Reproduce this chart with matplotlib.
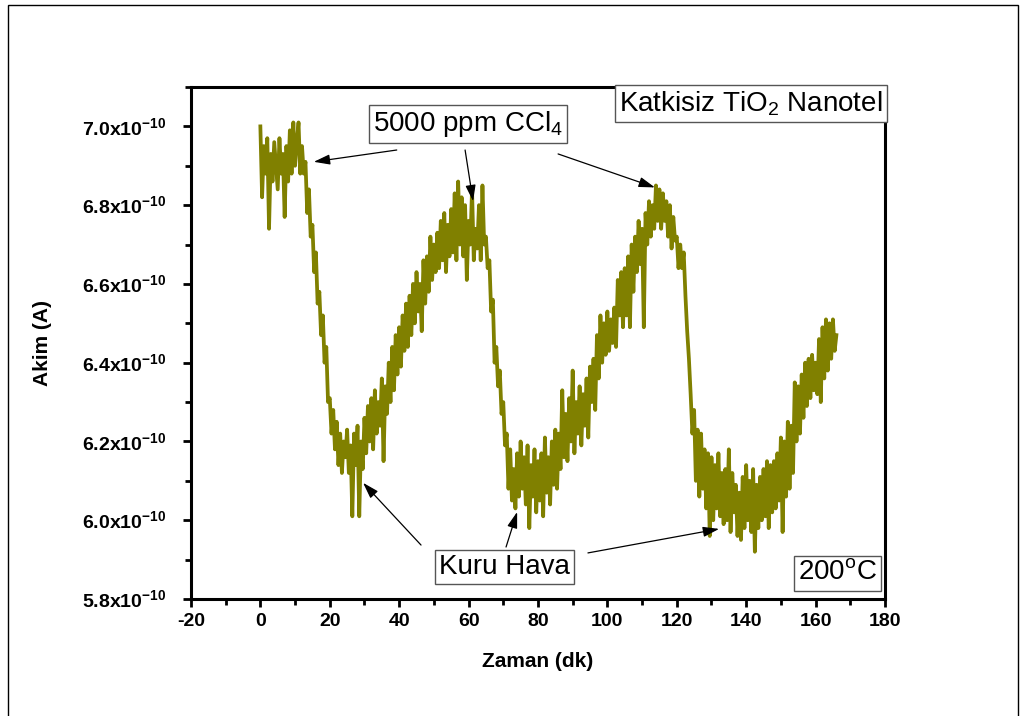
import numpy as np
import matplotlib
matplotlib.use("Agg")
from matplotlib import pyplot as plt
from matplotlib.patches import Rectangle

plt.rcParams['font.family'] = ['Liberation Sans', 'DejaVu Sans']
plt.rcParams['mathtext.fontset'] = 'custom'
plt.rcParams['mathtext.rm'] = 'Liberation Sans'
plt.rcParams['mathtext.bf'] = 'Liberation Sans:bold'

# current readings (x1e-10 A), one every 0.5 min starting at t = 0
t_step = 0.5
current = [
    7.00, 6.82, 6.95, 6.88, 6.97, 6.74, 6.93, 6.86, 6.96, 6.90,
    6.84, 6.97, 6.88, 6.93, 6.77, 6.95, 6.86, 6.99, 6.88, 7.01,
    6.90, 6.96, 7.01, 6.88, 6.95, 6.88, 6.91, 6.78, 6.84, 6.72,
    6.75, 6.63, 6.68, 6.55, 6.58, 6.47, 6.52, 6.40, 6.44, 6.30,
    6.31, 6.22, 6.28, 6.18, 6.25, 6.14, 6.22, 6.12, 6.20, 6.16,
    6.23, 6.12, 6.19, 6.01, 6.22, 6.14, 6.24, 6.01, 6.20, 6.13,
    6.26, 6.17, 6.29, 6.20, 6.31, 6.18, 6.33, 6.22, 6.30, 6.24,
    6.36, 6.15, 6.34, 6.27, 6.40, 6.30, 6.44, 6.33, 6.47, 6.37,
    6.49, 6.39, 6.52, 6.43, 6.55, 6.44, 6.57, 6.47, 6.60, 6.50,
    6.63, 6.53, 6.60, 6.48, 6.66, 6.55, 6.67, 6.58, 6.72, 6.61,
    6.70, 6.63, 6.73, 6.64, 6.76, 6.66, 6.78, 6.63, 6.75, 6.67,
    6.79, 6.68, 6.83, 6.66, 6.86, 6.70, 6.82, 6.67, 6.80, 6.61,
    6.76, 6.70, 6.84, 6.66, 6.74, 6.69, 6.80, 6.66, 6.85, 6.70,
    6.72, 6.64, 6.66, 6.53, 6.56, 6.40, 6.44, 6.34, 6.38, 6.27,
    6.30, 6.19, 6.22, 6.08, 6.18, 6.05, 6.13, 6.03, 6.17, 6.06,
    6.20, 6.08, 6.16, 6.04, 6.19, 5.98, 6.14, 6.06, 6.18, 6.02,
    6.15, 6.05, 6.17, 6.01, 6.21, 6.07, 6.16, 6.04, 6.20, 6.09,
    6.23, 6.08, 6.22, 6.13, 6.33, 6.16, 6.27, 6.15, 6.31, 6.20,
    6.38, 6.17, 6.30, 6.22, 6.34, 6.19, 6.32, 6.24, 6.36, 6.21,
    6.39, 6.30, 6.41, 6.28, 6.47, 6.36, 6.52, 6.40, 6.50, 6.42,
    6.53, 6.43, 6.51, 6.45, 6.54, 6.44, 6.61, 6.52, 6.63, 6.49,
    6.64, 6.52, 6.67, 6.49, 6.70, 6.58, 6.72, 6.63, 6.76, 6.65,
    6.74, 6.49, 6.78, 6.70, 6.81, 6.72, 6.80, 6.74, 6.85, 6.76,
    6.84, 6.74, 6.83, 6.76, 6.81, 6.72, 6.80, 6.69, 6.77, 6.71,
    6.72, 6.64, 6.70, 6.64, 6.68, 6.57, 6.48, 6.41, 6.32, 6.22,
    6.28, 6.10, 6.23, 6.06, 6.22, 6.08, 6.18, 6.03, 6.17, 5.96,
    6.16, 6.00, 6.14, 6.03, 6.17, 6.01, 6.12, 5.99, 6.13, 6.00,
    6.18, 5.97, 6.12, 6.02, 6.09, 5.96, 6.07, 5.95, 6.11, 5.98,
    6.14, 6.00, 6.10, 5.97, 6.13, 5.92, 6.09, 5.98, 6.11, 6.00,
    6.13, 6.01, 6.15, 5.98, 6.14, 6.02, 6.15, 6.03, 6.17, 6.05,
    6.21, 5.97, 6.20, 6.06, 6.25, 6.08, 6.24, 6.12, 6.35, 6.20,
    6.34, 6.22, 6.37, 6.26, 6.40, 6.29, 6.41, 6.31, 6.42, 6.33,
    6.40, 6.32, 6.46, 6.30, 6.49, 6.36, 6.51, 6.38, 6.50, 6.41,
    6.51, 6.43, 6.47,
]
time = np.arange(len(current)) * t_step

x_ticks = [-20, 0, 20, 40, 60, 80, 100, 120, 140, 160, 180]
y_ticks = [5.8, 6.0, 6.2, 6.4, 6.6, 6.8, 7.0]

# (start, end) of the annotation arrows, in data units (x1e-10 for y)
ccl4_arrows = [((39.3, 6.94), (15.4, 6.91)),
               ((59.0, 6.94), (61.3, 6.81)),
               ((85.8, 6.93), (113.7, 6.845))]
hava_arrows = [((46.3, 5.937), (29.6, 6.095)),
               ((70.8, 5.932), (74.0, 6.021)),
               ((94.4, 5.917), (132.2, 5.978))]

fig = plt.figure(figsize=(10.30, 7.16), dpi=100)
ax = fig.add_axes([0.1854, 0.1634, 0.6738, 0.7151])

scale = 1e-10
ax.plot(time, np.array(current) * scale, color='#808000', lw=2.7)

ax.set_xlim(-20, 180)
ax.set_ylim(5.8 * scale, 7.1 * scale)
ax.set_xticks(x_ticks)
ax.set_xticklabels([str(v) for v in x_ticks])
ax.set_xticks(np.arange(-10, 180, 20), minor=True)
ax.set_yticks([v * scale for v in y_ticks])
ax.set_yticklabels([f"{v:.1f}x10" + r"$^{\mathbf{-10}}$" for v in y_ticks])
ax.set_yticks([v * scale for v in [5.9, 6.1, 6.3, 6.5, 6.7, 6.9, 7.1]], minor=True)

for lab in ax.get_xticklabels() + ax.get_yticklabels():
    lab.set_fontweight('bold')
    lab.set_fontsize(14)

ax.tick_params(which='major', direction='out', length=6, width=2)
ax.tick_params(which='minor', direction='out', length=4, width=2)
ax.tick_params(axis='x', pad=4)
ax.tick_params(axis='y', pad=12)
for sp in ax.spines.values():
    sp.set_linewidth(2.2)

ax.set_xlabel('Zaman (dk)', fontsize=15, fontweight='bold', labelpad=16)
ax.set_ylabel('Akim (A)', fontsize=15, fontweight='bold')
ax.yaxis.set_label_coords(-0.2, 0.5)

box = dict(boxstyle='square,pad=0.15', fc='white', ec='#555555', lw=1)
ax.text(0.399, 0.928, r'5000 ppm CCl$_{\mathrm{4}}$', transform=ax.transAxes,
        fontsize=20, ha='center', va='center', bbox=box)
ax.text(0.997, 0.996, r'Katkisiz TiO$_{\mathrm{2}}$ Nanotel', transform=ax.transAxes,
        fontsize=20, ha='right', va='top', bbox=box)
ax.text(0.452, 0.0625, 'Kuru Hava', transform=ax.transAxes,
        fontsize=20, ha='center', va='center', bbox=box)
ax.text(0.932, 0.05, r'200$^{\mathrm{o}}$C', transform=ax.transAxes,
        fontsize=20, ha='center', va='center', bbox=box)

arrow = dict(arrowstyle='-|>,head_length=0.7,head_width=0.22', color='black',
             lw=0.9, shrinkA=0, shrinkB=0, mutation_scale=14)
for (x0, y0), (x1, y1) in ccl4_arrows + hava_arrows:
    ax.annotate('', xy=(x1, y1 * scale), xytext=(x0, y0 * scale), arrowprops=arrow)

# thin frame round the whole picture
fig.patches.append(Rectangle((8 / 1030, -0.01), 1010 / 1030, 1.01 - 5 / 716,
                             transform=fig.transFigure, fill=False,
                             ec='black', lw=1))

fig.savefig('out.png', dpi=100)
